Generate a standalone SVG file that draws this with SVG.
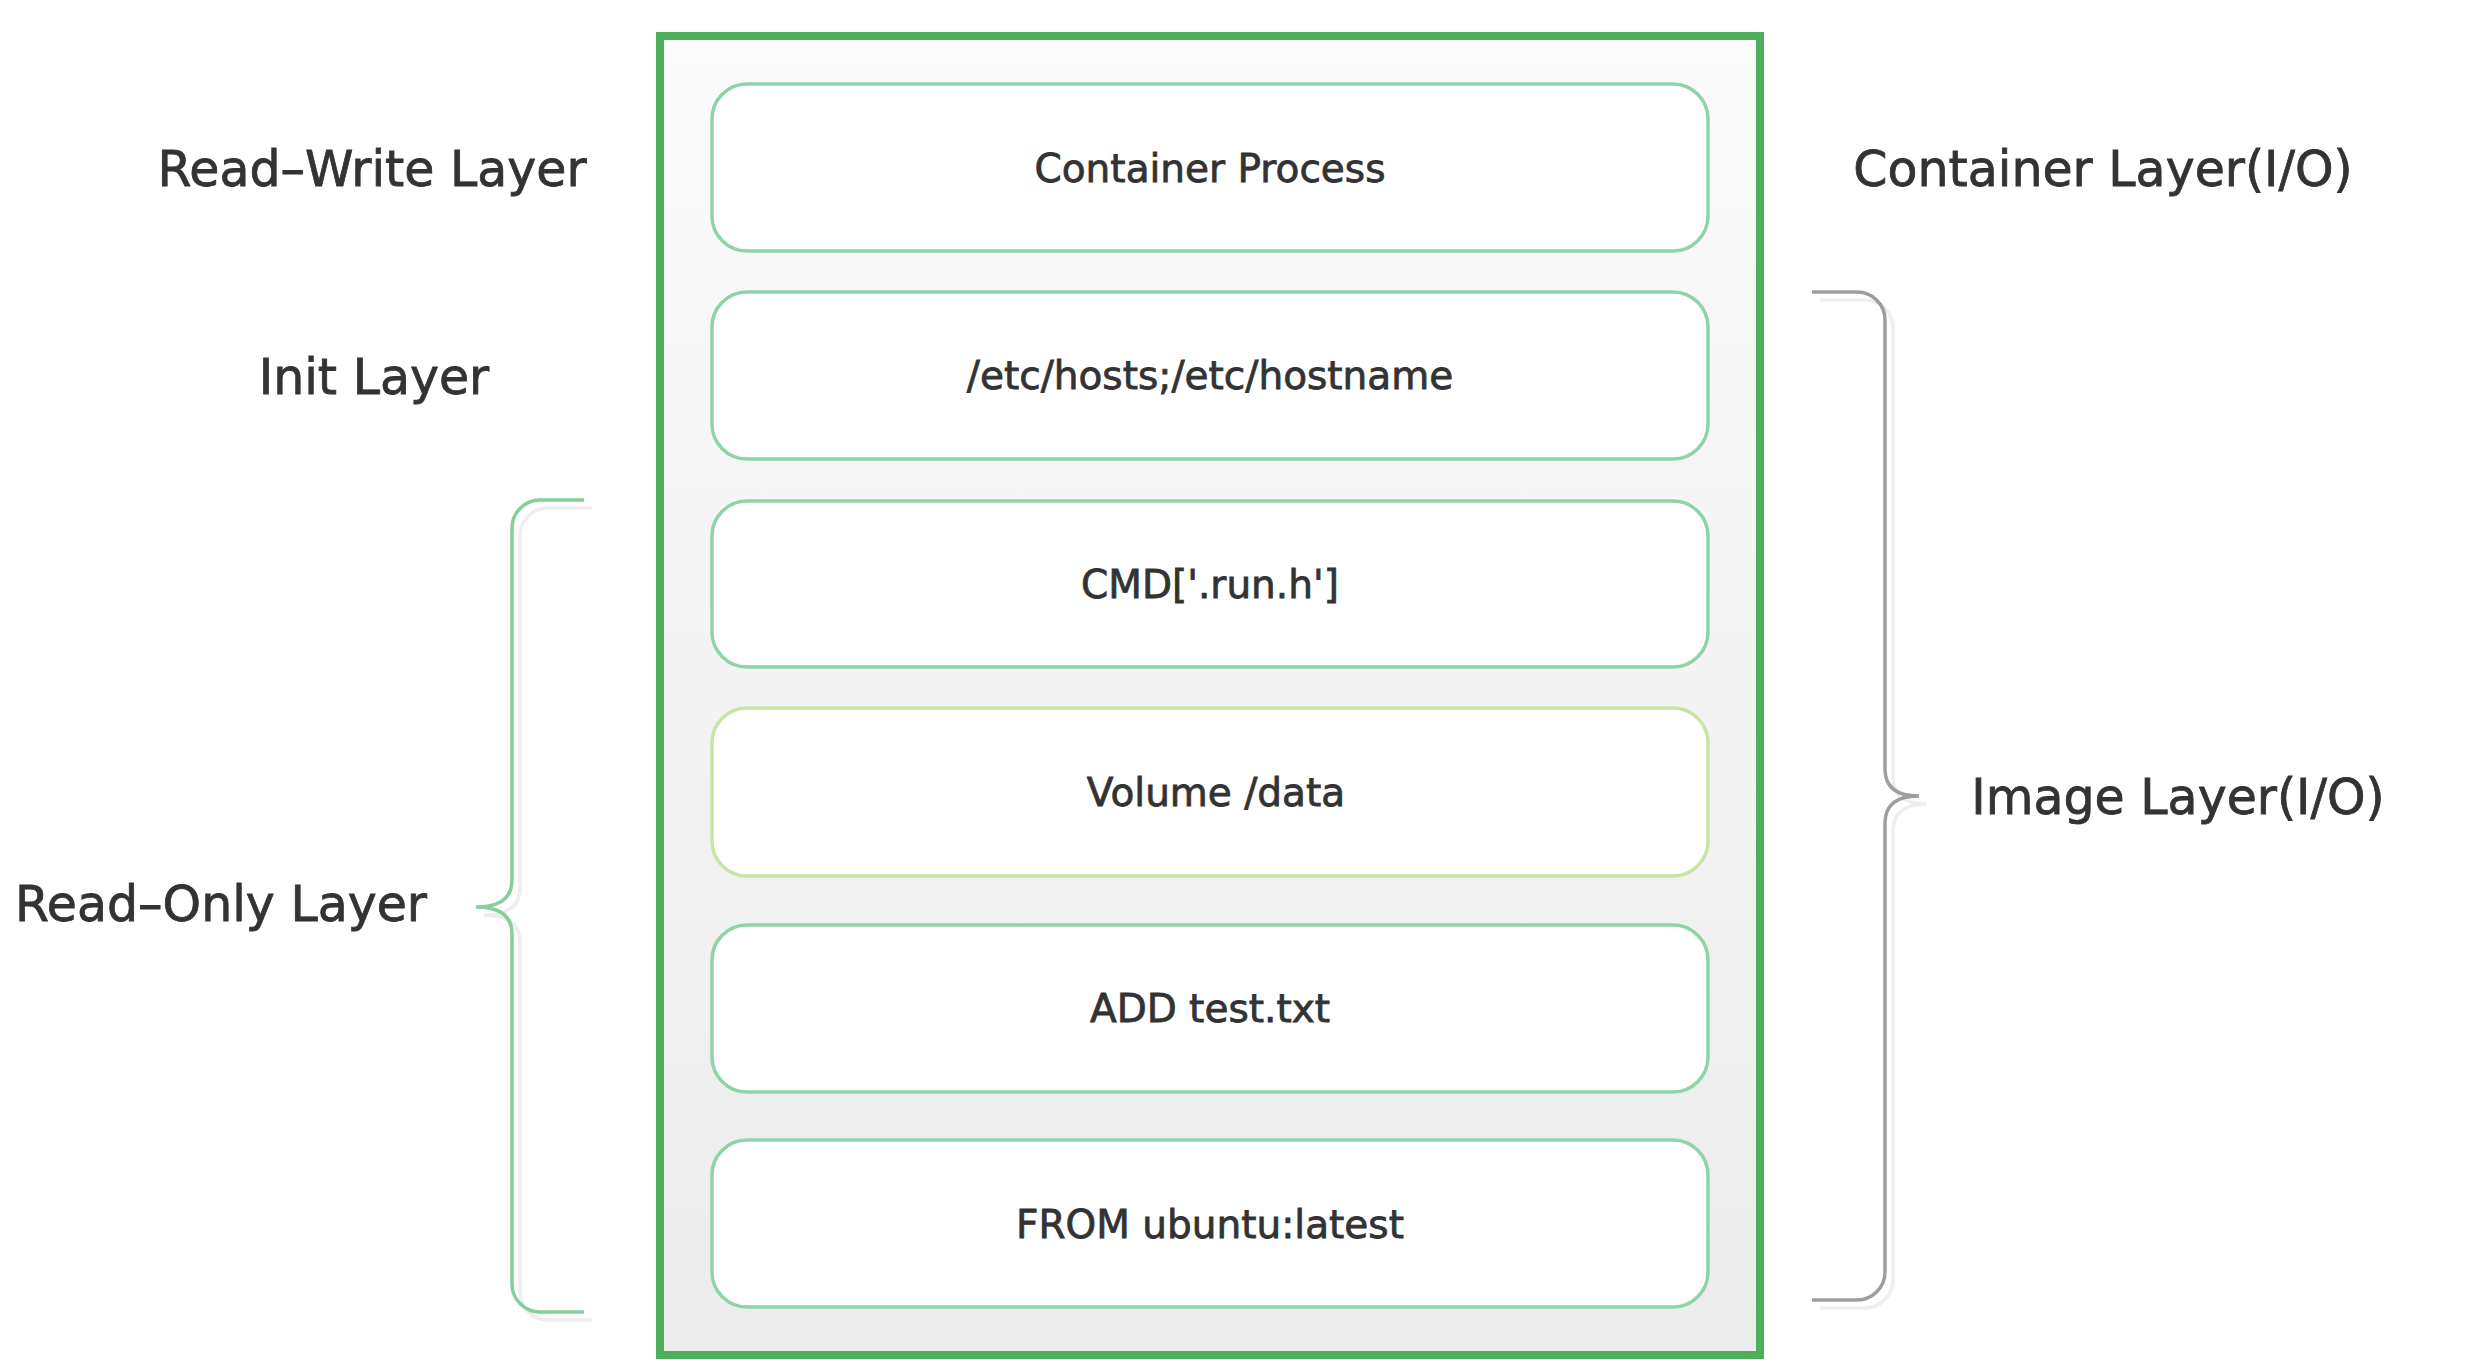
<svg xmlns="http://www.w3.org/2000/svg" width="2466" height="1360" viewBox="0 0 2466 1360">
<style>
.lbl{font-family:"DejaVu Sans","Liberation Sans",sans-serif;font-size:49px;fill:#333;stroke:#333;stroke-width:0.8;text-anchor:middle}
.txt{font-family:"DejaVu Sans","Liberation Sans",sans-serif;font-size:39px;fill:#333;stroke:#333;stroke-width:0.8;text-anchor:middle}
.box{fill:#fff;stroke:#8fd3a6;stroke-width:3.5}
.box.y{stroke:#c9e4a6}
.br{fill:none;stroke-width:3.5;stroke-linecap:butt}
.brs{fill:none;stroke:#eeeeee;stroke-width:3.5}
</style>
<defs>
<linearGradient id="bg" x1="0" y1="0" x2="0" y2="1">
<stop offset="0" stop-color="#fbfbfb"/>
<stop offset="1" stop-color="#ececec"/>
</linearGradient>
</defs>
<rect width="2466" height="1360" fill="#fff"/>
<g id="container">
<rect x="660" y="36" width="1100" height="1319" fill="url(#bg)" stroke="#4fae5a" stroke-width="8"/>
</g>
<g id="layer-container-process">
<rect class="box" x="712" y="84" width="996" height="167" rx="35"/>
<text class="txt" x="1210" y="182">Container Process</text>
</g>
<g id="layer-etc-hosts">
<rect class="box" x="712" y="292" width="996" height="167" rx="35"/>
<text class="txt" x="1210" y="389">/etc/hosts;/etc/hostname</text>
</g>
<g id="layer-cmd">
<rect class="box" x="712" y="501" width="996" height="166" rx="35"/>
<text class="txt" x="1210" y="598">CMD['.run.h']</text>
</g>
<g id="layer-volume">
<rect class="box y" x="712" y="708" width="996" height="168" rx="35"/>
<text class="txt" x="1216" y="806">Volume /data</text>
</g>
<g id="layer-add">
<rect class="box" x="712" y="925" width="996" height="167" rx="35"/>
<text class="txt" x="1210" y="1022">ADD test.txt</text>
</g>
<g id="layer-from">
<rect class="box" x="712" y="1140" width="996" height="167" rx="35"/>
<text class="txt" x="1210" y="1238">FROM ubuntu:latest</text>
</g>
<g id="label-read-write"><text class="lbl" x="372" y="186">Read–Write Layer</text></g>
<g id="label-init"><text class="lbl" x="374" y="394">Init Layer</text></g>
<g id="label-read-only"><text class="lbl" x="221" y="921">Read–Only Layer</text></g>
<g id="label-container-layer"><text class="lbl" x="2103" y="186">Container Layer(I/O)</text></g>
<g id="label-image-layer"><text class="lbl" x="2178" y="814">Image Layer(I/O)</text></g>
<g id="connectors">
<path class="brs" d="M592 508 H548 A28 28 0 0 0 520 536 V888 Q520 915 484 915 Q520 915 520 942 V1292 A28 28 0 0 0 548 1320 H592"/>
<path class="br" stroke="#86cf9d" d="M584 500 H540 A28 28 0 0 0 512 528 V880 Q512 907 476 907 Q512 907 512 934 V1284 A28 28 0 0 0 540 1312 H584"/>
<path class="brs" d="M1820 300 H1865 A28 28 0 0 1 1893 328 V777 Q1893 804 1927 804 Q1893 804 1893 831 V1280 A28 28 0 0 1 1865 1308 H1820"/>
<path class="br" stroke="#9e9e9e" d="M1812 292 H1857 A28 28 0 0 1 1885 320 V769 Q1885 796 1919 796 Q1885 796 1885 823 V1272 A28 28 0 0 1 1857 1300 H1812"/>
</g>
</svg>
